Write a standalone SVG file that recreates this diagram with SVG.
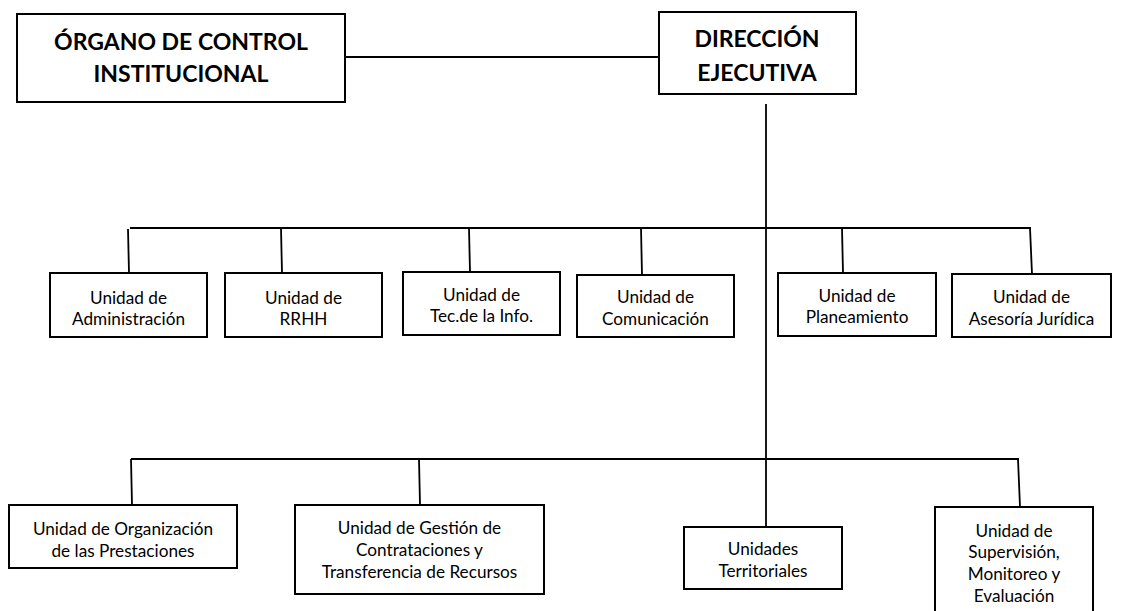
<svg xmlns="http://www.w3.org/2000/svg" width="1132" height="611" viewBox="0 0 1132 611">
<style>
.box{fill:#fff;stroke:#000;stroke-width:2}
.ln{fill:none;stroke:#000;stroke-width:1.8}
.t{font-family:Lato,"Liberation Sans",sans-serif;font-size:17.2px;fill:#000;text-anchor:middle}
.h{font-family:Lato,"Liberation Sans",sans-serif;font-size:23px;font-weight:bold;fill:#000;text-anchor:middle}
</style>
<rect width="1132" height="611" fill="#fff"/>
<g id="connectors">
<line class="ln" x1="345" y1="57" x2="659" y2="57"/>
<line class="ln" x1="766" y1="104" x2="766" y2="527"/>
<line class="ln" x1="130" y1="228" x2="1031" y2="228"/>
<line class="ln" x1="128" y1="229" x2="129" y2="273"/>
<line class="ln" x1="281" y1="228" x2="282" y2="273"/>
<line class="ln" x1="469" y1="228" x2="470" y2="272"/>
<line class="ln" x1="641" y1="228" x2="642" y2="275"/>
<line class="ln" x1="842" y1="228" x2="843" y2="273"/>
<line class="ln" x1="1030" y1="228" x2="1032" y2="274"/>
<line class="ln" x1="131" y1="459" x2="1019" y2="459"/>
<line class="ln" x1="131" y1="459" x2="132" y2="505"/>
<line class="ln" x1="419" y1="459" x2="420" y2="505"/>
<line class="ln" x1="1018" y1="459" x2="1020" y2="507"/>
</g>
<g id="organo-control">
<rect class="box" x="17" y="14" width="328" height="88"/>
<text class="h" x="181" y="50">ÓRGANO DE CONTROL</text>
<text class="h" x="181" y="82">INSTITUCIONAL</text>
</g>
<g id="direccion-ejecutiva">
<rect class="box" x="659" y="12" width="197" height="82"/>
<text class="h" x="757" y="47">DIRECCIÓN</text>
<text class="h" x="757" y="81">EJECUTIVA</text>
</g>
<g id="u-administracion">
<rect class="box" x="50" y="273" width="157" height="64"/>
<text class="t" x="128.5" y="304">Unidad de</text>
<text class="t" x="128.5" y="325">Administración</text>
</g>
<g id="u-rrhh">
<rect class="box" x="225" y="273" width="157" height="64"/>
<text class="t" x="303.5" y="304">Unidad de</text>
<text class="t" x="303.5" y="325">RRHH</text>
</g>
<g id="u-tec">
<rect class="box" x="403" y="272" width="157" height="63"/>
<text class="t" x="481.5" y="301">Unidad de</text>
<text class="t" x="481.5" y="322">Tec.de la Info.</text>
</g>
<g id="u-comunicacion">
<rect class="box" x="577" y="275" width="157" height="62"/>
<text class="t" x="655.5" y="303">Unidad de</text>
<text class="t" x="655.5" y="325">Comunicación</text>
</g>
<g id="u-planeamiento">
<rect class="box" x="778" y="273" width="158" height="63"/>
<text class="t" x="857" y="302">Unidad de</text>
<text class="t" x="857" y="323">Planeamiento</text>
</g>
<g id="u-asesoria">
<rect class="box" x="952" y="274" width="159" height="63"/>
<text class="t" x="1031.5" y="303">Unidad de</text>
<text class="t" x="1031.5" y="325">Asesoría Jurídica</text>
</g>
<g id="u-organizacion">
<rect class="box" x="9" y="505" width="228" height="63"/>
<text class="t" x="123" y="535">Unidad de Organización</text>
<text class="t" x="123" y="557">de las Prestaciones</text>
</g>
<g id="u-gestion">
<rect class="box" x="295" y="505" width="249" height="89"/>
<text class="t" x="419.5" y="534">Unidad de Gestión de</text>
<text class="t" x="419.5" y="556">Contrataciones y</text>
<text class="t" x="419.5" y="578">Transferencia de Recursos</text>
</g>
<g id="u-territoriales">
<rect class="box" x="684" y="527" width="158" height="62"/>
<text class="t" x="763" y="555">Unidades</text>
<text class="t" x="763" y="577">Territoriales</text>
</g>
<g id="u-supervision">
<rect class="box" x="935" y="507" width="158" height="120"/>
<text class="t" x="1014" y="537">Unidad de</text>
<text class="t" x="1014" y="558">Supervisión,</text>
<text class="t" x="1014" y="580">Monitoreo y</text>
<text class="t" x="1014" y="602">Evaluación</text>
</g>
</svg>
